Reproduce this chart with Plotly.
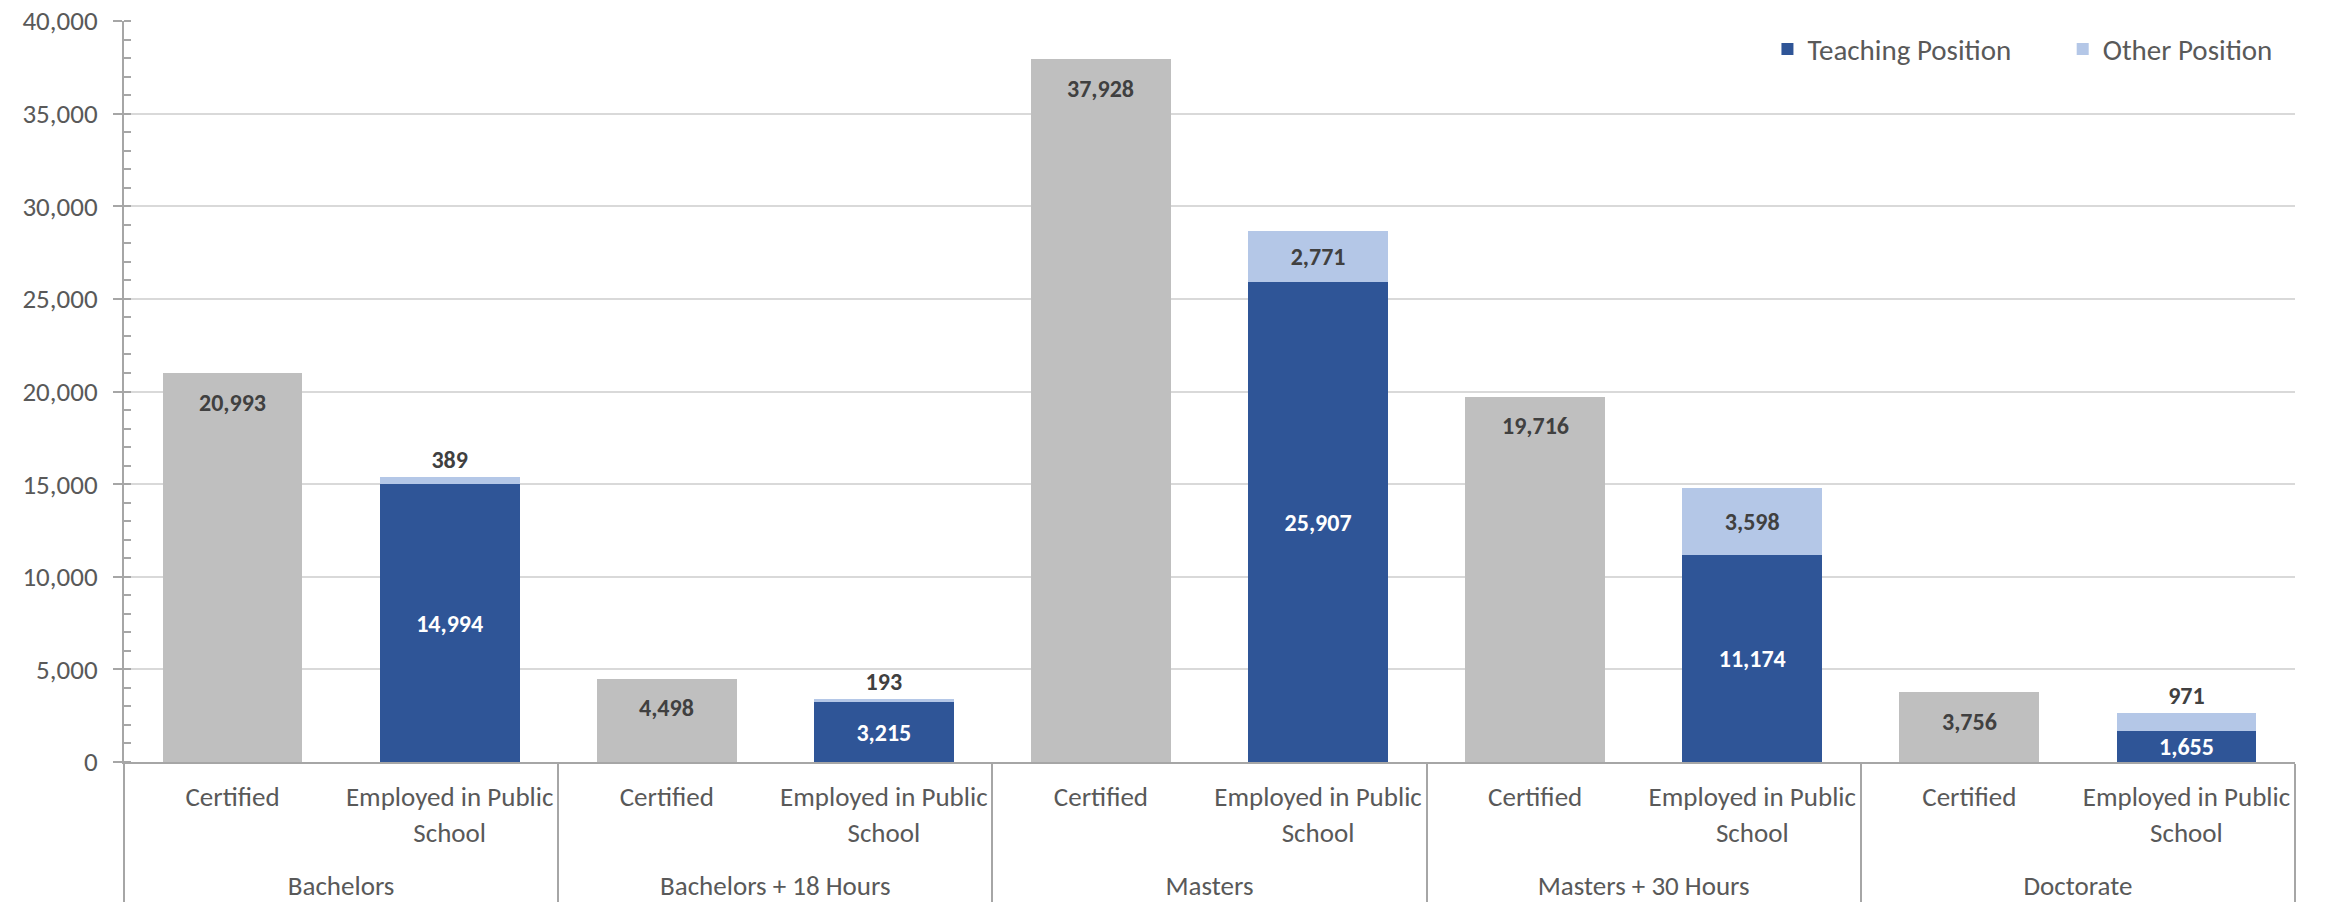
import plotly.graph_objects as go

groups = ["Bachelors", "Bachelors + 18 Hours", "Masters", "Masters + 30 Hours", "Doctorate"]
sub_certified = "Certified"
sub_employed = "Employed in Public<br>School"
certified = [20993, 4498, 37928, 19716, 3756]
teaching = [14994, 3215, 25907, 11174, 1655]
other = [389, 193, 2771, 3598, 971]
y_ticks = [0, 5000, 10000, 15000, 20000, 25000, 30000, 35000, 40000]

FONT = "Calibri, Carlito, Lato, sans-serif"
GREY_TXT = "#595959"
LABEL_TXT = "#404040"
LBL_SIZE = 24
AX_SIZE = 27

# a tiny invisible extra line under the sub-category labels pushes the
# group labels (second level) further down, like Excel does
spacer = "<br><span style='font-size:1px;color:rgba(0,0,0,0)'>.</span>"
x_cert = [groups, [sub_certified] * len(groups)]
x_emp = [groups, [sub_employed + spacer] * len(groups)]

fig = go.Figure()

# certified bars (labels added as annotations below, Excel "inside end" style)
fig.add_trace(go.Bar(
    x=x_cert, y=certified,
    marker=dict(color="#bfbfbf", line=dict(width=0)),
    showlegend=False, name="Certified",
))

# employed: teaching + other stacked
fig.add_trace(go.Bar(
    x=x_emp, y=teaching,
    marker=dict(color="#2f5597", line=dict(width=0)),
    text=[f"{v:,}" for v in teaching],
    textposition="inside", insidetextanchor="middle",
    textfont=dict(family=FONT, size=LBL_SIZE, color="white", weight="bold"),
    name="Teaching Position", legend="legend",
))
fig.add_trace(go.Bar(
    x=x_emp, y=other,
    marker=dict(color="#b4c7e7", line=dict(width=0)),
    text=[f"{v:,}" for v in other],
    textposition=["inside" if v > 2000 else "outside" for v in other],
    insidetextanchor="middle",
    textfont=dict(family=FONT, size=LBL_SIZE, color=LABEL_TXT, weight="bold"),
    name="Other Position", legend="legend2",
))

# certified value labels, a bit below the bar top
for i, v in enumerate(certified):
    fig.add_annotation(
        x=2 * i, y=v, xref="x", yref="y",
        text=f"<b>{v:,}</b>", showarrow=False,
        yanchor="middle", yshift=-29,
        font=dict(family=FONT, size=LBL_SIZE, color=LABEL_TXT),
    )

leg = dict(
    orientation="h", xanchor="left", y=0.962, yanchor="middle",
    font=dict(size=29, color=GREY_TXT), bgcolor="rgba(0,0,0,0)",
)

fig.update_layout(
    width=2328, height=902,
    barmode="stack", bargap=0.356,
    plot_bgcolor="white", paper_bgcolor="white",
    margin=dict(l=124, r=33, t=21, b=140),
    font=dict(family=FONT, size=AX_SIZE, color=GREY_TXT),
    uniformtext=dict(minsize=LBL_SIZE, mode="show"),
    legend=dict(leg, x=0.757),
    legend2=dict(leg, x=0.893),
)

fig.update_yaxes(
    range=[0, 40000], tickvals=y_ticks, tickformat=",",
    showgrid=True, gridcolor="#d9d9d9", gridwidth=2,
    showline=True, linecolor="#a6a6a6", linewidth=2,
    ticks="outside", ticklen=9, tickcolor="#a6a6a6", tickwidth=2,
    ticklabelstandoff=10,
    minor=dict(ticks="inside", ticklen=7, dtick=1000, tickcolor="#a6a6a6",
               tickwidth=1.5, showgrid=False),
    zeroline=False, automargin=False,
    tickfont=dict(size=AX_SIZE, color=GREY_TXT),
)

fig.update_xaxes(
    type="multicategory", tickangle=0,
    showline=True, linecolor="#a6a6a6", linewidth=2,
    showdividers=True, dividercolor="#a6a6a6", dividerwidth=2,
    ticks="", showgrid=False, automargin=False,
    ticklabelstandoff=10,
    tickfont=dict(size=AX_SIZE, color=GREY_TXT),
)

# drop the default body margin so the figure sits at the page corner
fig.write_html("out.html", config={"displayModeBar": False},
               post_script="document.body.style.margin='0';")
